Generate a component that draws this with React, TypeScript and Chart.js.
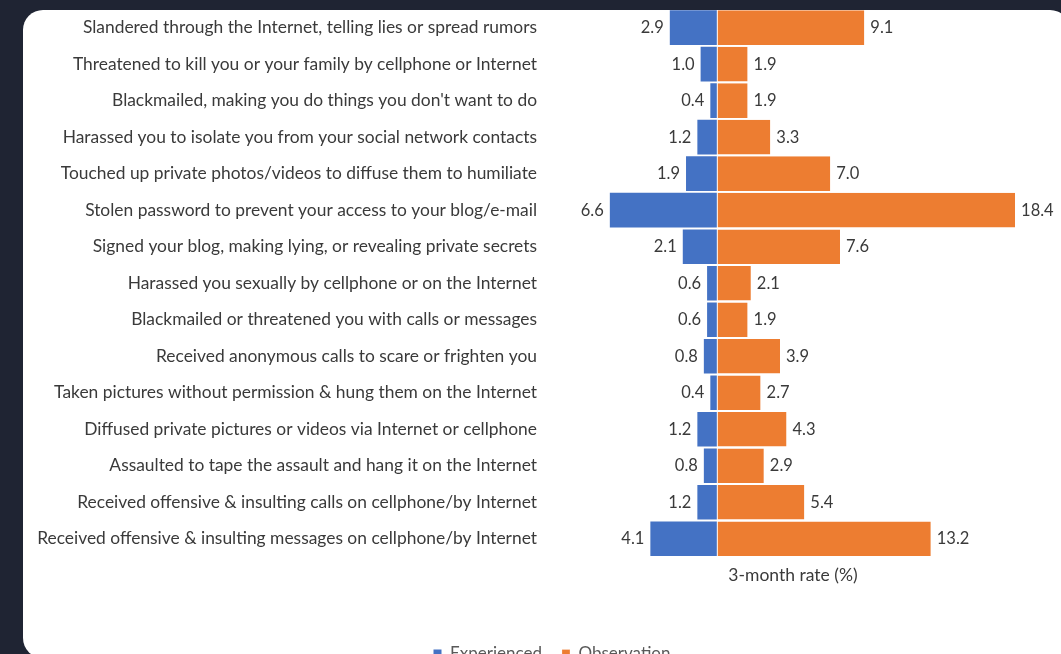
import { useEffect, useRef } from "react";
import { Chart, registerables } from "chart.js";

Chart.register(...registerables);

const categories = [
  "Slandered through the Internet, telling lies or spread rumors",
  "Threatened to kill you or your family by cellphone or Internet",
  "Blackmailed, making you do things you don't want to do",
  "Harassed you to isolate you from your social network contacts",
  "Touched up private photos/videos to diffuse them to humiliate",
  "Stolen password to prevent your access to your blog/e-mail",
  "Signed your blog, making lying, or revealing private secrets",
  "Harassed you sexually by cellphone or on the Internet",
  "Blackmailed or threatened you with calls or messages",
  "Received anonymous calls to scare or frighten you",
  "Taken pictures without permission & hung them on the Internet",
  "Diffused private pictures or videos via Internet or cellphone",
  "Assaulted to tape the assault and hang it on the Internet",
  "Received offensive & insulting calls on cellphone/by Internet",
  "Received offensive & insulting messages on cellphone/by Internet",
];

const experienced = [2.9, 1.0, 0.4, 1.2, 1.9, 6.6, 2.1, 0.6, 0.6, 0.8, 0.4, 1.2, 0.8, 1.2, 4.1];
const observation = [9.1, 1.9, 1.9, 3.3, 7.0, 18.4, 7.6, 2.1, 1.9, 3.9, 2.7, 4.3, 2.9, 5.4, 13.2];
const seriesNames = ["Experienced", "Observation"];
const axisTitle = "3-month rate (%)";

const FONT = "Lato";
const W = 1129;
const H = 692;

export default function App() {
  const ref = useRef<HTMLCanvasElement>(null);

  useEffect(() => {
    document.body.style.margin = "0";
    if (!ref.current) return;

    const labelPlugin = {
      id: "barLabels",
      afterDatasetsDraw(chart: any) {
        const ctx = chart.ctx;
        ctx.save();
        ctx.font = `16.5px ${FONT}`;
        ctx.fillStyle = "#3a3a3a";
        ctx.textBaseline = "middle";
        chart.data.datasets.forEach((ds: any, di: number) => {
          const meta = chart.getDatasetMeta(di);
          meta.data.forEach((el: any, i: number) => {
            const v = ds.data[i] as number;
            const txt = Math.abs(v).toFixed(1);
            if (v < 0) {
              ctx.textAlign = "right";
              ctx.fillText(txt, el.x - 6, el.y);
            } else {
              ctx.textAlign = "left";
              ctx.fillText(txt, el.x + 6, el.y);
            }
          });
        });
        ctx.restore();
      },
    };

    const legendShift = {
      id: "legendShift",
      afterLayout(chart: any) {
        const lg = chart.legend;
        if (lg) {
          lg.left += 12.5;
          lg.right += 12.5;
        }
      },
    };

    const chart = new Chart(ref.current, {
      type: "bar",
      data: {
        labels: categories,
        datasets: [
          {
            label: seriesNames[0],
            data: experienced.map((v) => -v),
            backgroundColor: "#4472C4",
            barPercentage: 0.95,
            categoryPercentage: 1.0,
          },
          {
            label: seriesNames[1],
            data: observation,
            backgroundColor: "#ED7D31",
            borderColor: "#ffffff",
            borderWidth: { left: 1, right: 0, top: 0, bottom: 0 },
            borderSkipped: false,
            barPercentage: 0.95,
            categoryPercentage: 1.0,
          },
        ],
      },
      options: {
        indexAxis: "y",
        responsive: false,
        maintainAspectRatio: false,
        animation: false,
        layout: { padding: { left: 38, right: W - 1041, top: 8, bottom: 11 } },
        scales: {
          x: {
            type: "linear",
            stacked: true,
            min: -10.6,
            max: 20,
            grid: { display: false, drawTicks: false },
            border: { display: false },
            ticks: { display: false },
            title: {
              display: true,
              text: axisTitle,
              color: "#3a3a3a",
              font: { size: 17.5, family: FONT },
              padding: { top: 8, bottom: 39 },
            },
          },
          y: {
            stacked: true,
            grid: { display: false, drawTicks: false },
            border: { display: false },
            ticks: {
              color: "#3a3a3a",
              font: { size: 17.4, family: FONT },
              padding: 8,
              autoSkip: false,
            },
            afterFit(scale: any) {
              scale.width = 507;
            },
          },
        },
        plugins: {
          legend: {
            position: "bottom",
            labels: {
              boxWidth: 8,
              boxHeight: 8,
              padding: 20,
              color: "#595959",
              font: { size: 17, family: FONT },
            },
          },
          tooltip: { enabled: false },
        },
      },
      plugins: [labelPlugin, legendShift],
    } as any);

    return () => chart.destroy();
  }, []);

  return (
    <div
      style={{
        position: "fixed",
        left: 0,
        top: 0,
        width: 1061,
        height: 654,
        background: "#1f2433",
        overflow: "hidden",
      }}
    >
      <div
        style={{
          position: "absolute",
          left: 23,
          top: 10,
          width: 1047,
          height: 648,
          borderRadius: 20,
          background: "#ffffff",
          overflow: "hidden",
        }}
      >
        <canvas
          ref={ref}
          width={W}
          height={H}
          style={{ position: "absolute", left: -23, top: -18.6, width: W, height: H }}
        />
      </div>
    </div>
  );
}
